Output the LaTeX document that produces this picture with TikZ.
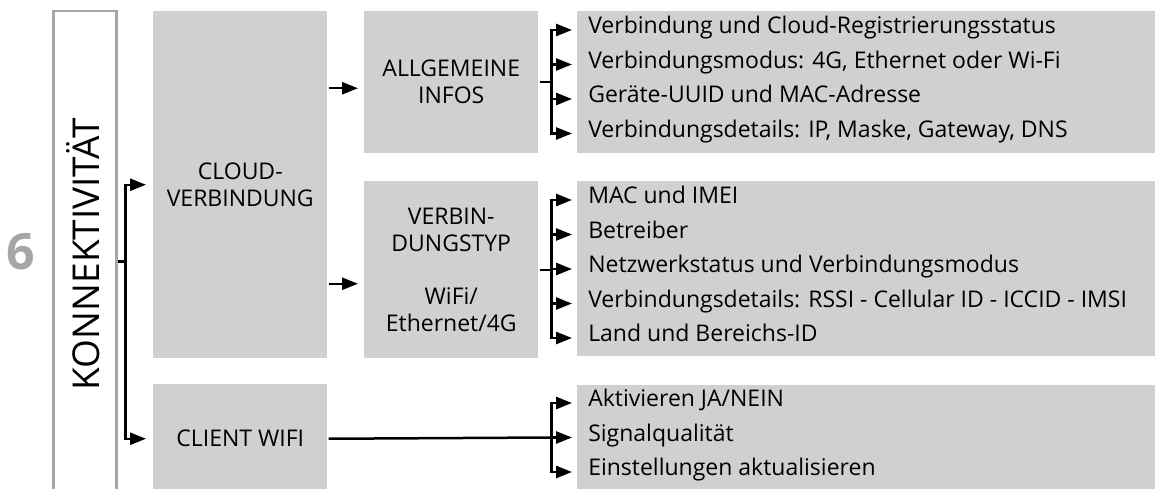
\documentclass[tikz,border=0pt]{standalone}
\usepackage{fontspec}
\setmainfont{Open Sans}
\usetikzlibrary{arrows.meta, positioning}
\definecolor{boxgray}{RGB}{208,208,208}
\definecolor{framegray}{RGB}{166,166,166}

\begin{document}
\begin{tikzpicture}[x=1pt, y=-1pt, font=\fontsize{23}{27}\selectfont, line width=2.5pt,
    >={Triangle[length=16pt, width=12pt]},
    box/.style={fill=boxgray, minimum width=174pt, align=center, inner sep=0pt, anchor=north west},
    list/.style={fill=boxgray, minimum width=579pt, inner sep=0pt, anchor=north west},
    item/.style={anchor=west, inner sep=0pt, inner xsep=15pt, text height=0.72em, text depth=0pt}]
    \useasboundingbox (0,0) rectangle (1155,489);
    \node[draw=framegray, minimum width=63pt, minimum height=500pt, inner sep=0pt, anchor=north west] (frame) at (52,10) {};
    \node[rotate=90, font=\fontsize{37}{40}\selectfont] (title) at (83,254) {KONNEKTIVITÄT};
    \node[font=\fontsize{50}{50}\selectfont\bfseries, text=framegray] (num) at (21,252) {6};

    \node[box, minimum height=347pt] (cloud) at (152,10) {CLOUD-\\VERBINDUNG};
    \node[box, minimum height=109pt] (client) at (152,383) {CLIENT WIFI};
    \node[box, minimum height=142pt] (allg) at (363,10) {ALLGEMEINE\\INFOS};
    \node[box, minimum height=177pt] (typ) at (363,180) {VERBIN-\\DUNGSTYP\\[26pt]WiFi/\\Ethernet/4G};

    \node[list, minimum height=142pt] (infolist) at (576,10) {};
    \node[list, minimum height=175pt] (typlist) at (576,180) {};
    \node[list, minimum height=108pt] (wifilist) at (576,384) {};

    \foreach \txt [count=\i] in {{Verbindung und Cloud-Registrierungsstatus},
        {Verbindungsmodus: 4G, Ethernet oder Wi-Fi}, {Geräte-UUID und MAC-Adresse},
        {Verbindungsdetails: IP, Maske, Gateway, DNS}}
        \node[item] (info\i) at (572, {30+34.5*(\i-1)}) {\txt};
    \foreach \txt [count=\i] in {{MAC und IMEI}, {Betreiber}, {Netzwerkstatus und Verbindungsmodus},
        {Verbindungsdetails: RSSI - Cellular ID - ICCID - IMSI}, {Land und Bereichs-ID}}
        \node[item] (typ\i) at (572, {200+34.5*(\i-1)}) {\txt};
    \foreach \txt [count=\i] in {{Aktivieren JA/NEIN}, {Signalqualität}, {Einstellungen aktualisieren}}
        \node[item] (wifi\i) at (572, {403+34.5*(\i-1)}) {\txt};

    \coordinate (j0) at ([xshift=8pt]frame.east);
    \coordinate (allgin) at ([yshift=-6pt]allg.west);
    \coordinate (typin) at ([yshift=-14pt]typ.west);
    \coordinate (infoj) at ([xshift=12pt]allg.east);
    \coordinate (typj) at ([xshift=12pt]typ.east);
    \coordinate (wifij) at (infoj |- wifi2.west);

    \draw (frame.east) -- (j0);
    \draw[->, shorten >=6pt] (j0) |- (cloud.west);
    \draw[->, shorten >=6pt] (j0) |- (client.west);
    \draw[->, shorten >=5pt] (cloud.east |- allgin) -- (allgin);
    \draw[->, shorten >=5pt] (cloud.east |- typin) -- (typin);
    \draw (allg.east) -- (infoj);
    \draw (typ.east) -- (typj);
    \draw (client.east) -- (wifij);
    \foreach \i in {1,...,4}
        \draw[->] (infoj) |- (info\i.west);
    \foreach \i in {1,...,5}
        \draw[->] (typj) |- (typ\i.west);
    \foreach \i in {1,...,3}
        \draw[->] (wifij) |- (wifi\i.west);
\end{tikzpicture}
\end{document}
